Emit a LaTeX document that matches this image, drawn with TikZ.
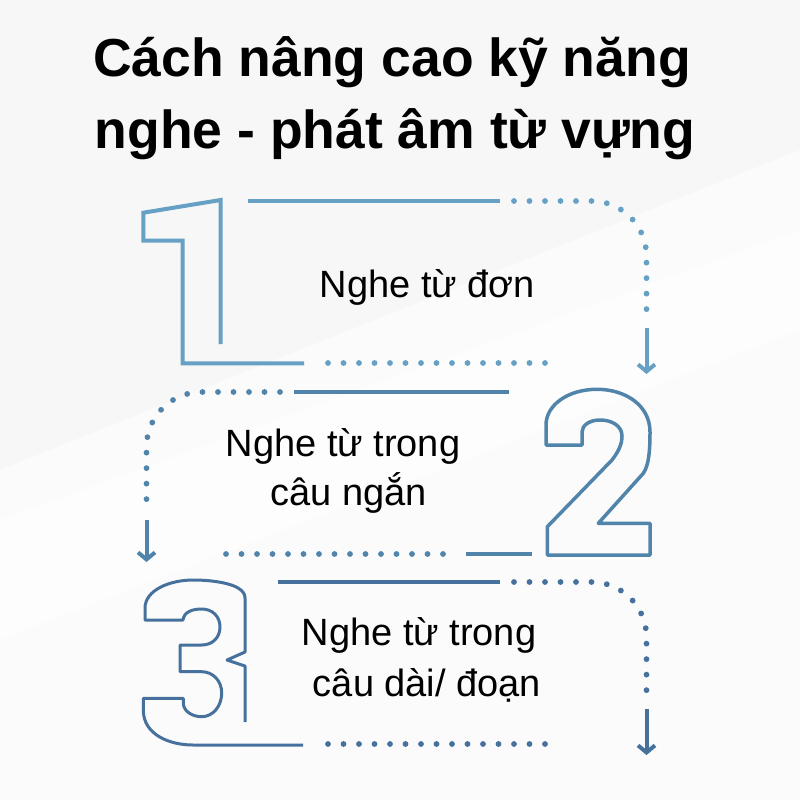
\documentclass[tikz,border=0pt]{standalone}
\usepackage{fontspec}
\setmainfont{Liberation Sans}
\usetikzlibrary{arrows.meta}

\begin{document}
\begin{tikzpicture}[
        x = 1pt,
        y = -1pt
    ]

        \definecolor{stepone}{RGB}{102,160,196}
        \definecolor{steptwo}{RGB}{80,132,170}
        \definecolor{stepthree}{RGB}{70,113,157}
        \definecolor{backdrop}{RGB}{238,238,238}

        \tikzset{%
            dotline/.style = {%
                line width   = 5.8pt,
                line cap     = round,
                dash pattern = on 0pt off 15.5pt
            },
            solidline/.style = {%
                line width = 4pt
            },
            downarrow/.style = {%
                line width = 4pt,
                -{Straight Barb[length = 7pt, width = 17pt]}
            },
            titletext/.style = {%
                anchor    = base,
                inner sep = 0pt,
                font      = \bfseries\fontsize{53.5}{60}\selectfont
            },
            steptext/.style = {%
                anchor    = base,
                inner sep = 0pt,
                text      = black,
                font      = \fontsize{38}{46}\selectfont
            }
        }

        \newcommand{\bendradius}{55pt}

        \useasboundingbox (0,0) rectangle (800,800);

        \fill[backdrop] (0,0) rectangle (800,800);
        \fill[white, opacity = 0.55] (0,0) rectangle (800,800);
        \fill[white, opacity = 0.6] (0,800) -- (0,520) -- (800,230) -- (800,800) -- cycle;
        \fill[white, opacity = 0.5] (0,470) -- (800,150) -- (800,330) -- (0,640) -- cycle;

        \node[titletext] (titleup) at (392,77) {Cách nâng cao kỹ năng};
        \node[titletext] (titledown) at (395,148) {nghe - phát âm từ vựng};

        \node[steptext] (onetext) at (427.5,297) {Nghe từ đơn};
        \node[steptext] (twotextup) at (343,456.7) {Nghe từ trong};
        \node[steptext] (twotextdown) at (349,505) {câu ngắn};
        \node[steptext] (threetextup) at (419,645) {Nghe từ trong};
        \node[steptext] (threetextdown) at (427,696.7) {câu dài/ đoạn};

        \foreach \dy/\linestart/\col in {0/248/stepone, 381/278/stepthree} {
            \draw[solidline, \col] (\linestart, 201+\dy) -- (500, 201+\dy);
            \draw[dotline, \col, rounded corners = \bendradius] (514, 201+\dy) -| (646.5, 313+\dy);
            \draw[dotline, \col] (328, 363+\dy) -- (545, 363+\dy);
            \coordinate (arrowtop\dy) at (646.5, 328+\dy);
            \coordinate (arrowtip\dy) at (646.5, 374+\dy);
            \draw[downarrow, \col] (arrowtop\dy) -- (arrowtip\dy);
        }

        \draw[solidline, steptwo] (294,392) -- (509,392);
        \draw[dotline, steptwo, rounded corners = \bendradius] (280,392) -| (146.5,503);
        \draw[dotline, steptwo] (226,554) -- (443,554);
        \draw[solidline, steptwo] (466,554) -- (532,554);
        \coordinate (twoarrowtop) at (146.5,520);
        \coordinate (twoarrowtip) at (146.5,562);
        \draw[downarrow, steptwo] (twoarrowtop) -- (twoarrowtip);

        % Digit one
        \draw[stepone, line width = 4pt] (304,363.3) -- (182.7,363.3) -- (182.7,240.7)
            -- (143.3,240.7) -- (143.3,212.7) -- (220.7,200) -- (220.7,344);

        % Digit two
        \draw[steptwo, line width = 3.5pt, line join = round] (547.3,555) -- (650,555) -- (650,523.3)
            -- (598.3,523.3) -- (643.3,473.3)
            .. controls (649,465) and (650,450) .. (650,432)
            .. controls (650,405) and (625,389.3) .. (597,389.3)
            .. controls (568,389.3) and (546,405) .. (546,425)
            -- (546,445) -- (582,445) -- (582,432)
            .. controls (582,425) and (590,420) .. (600,420)
            .. controls (612,420) and (622,426) .. (622,436)
            .. controls (622,445) and (618,452) .. (612,460)
            -- (547.3,526.7) -- cycle;

        % Digit three
        \draw[stepthree, line width = 3pt, line join = round] (245,722) -- (245,666) -- (227,660) -- (245,652)
            -- (245,598) .. controls (245,594) and (243,591) .. (238,588)
            .. controls (232,584) and (215,580) .. (193,580)
            .. controls (170,580) and (145,590) .. (145,608)
            -- (145,620) -- (183,620)
            .. controls (184,612) and (192,609) .. (201.7,609)
            .. controls (212,609) and (220,616) .. (220,627)
            .. controls (220,638) and (212,645) .. (201.7,645)
            -- (180,645) -- (180,671.7) -- (201.7,671.7)
            .. controls (213,671.7) and (221.7,681) .. (221.7,693)
            .. controls (221.7,706) and (213,716.7) .. (201.7,716.7)
            .. controls (192,716.7) and (183.3,711) .. (183.3,703)
            -- (183.3,698.3) -- (143.3,698.3) -- (143.3,710)
            .. controls (143.3,735) and (170,745) .. (193,745)
            -- (303,745);

    \end{tikzpicture}
\end{document}
